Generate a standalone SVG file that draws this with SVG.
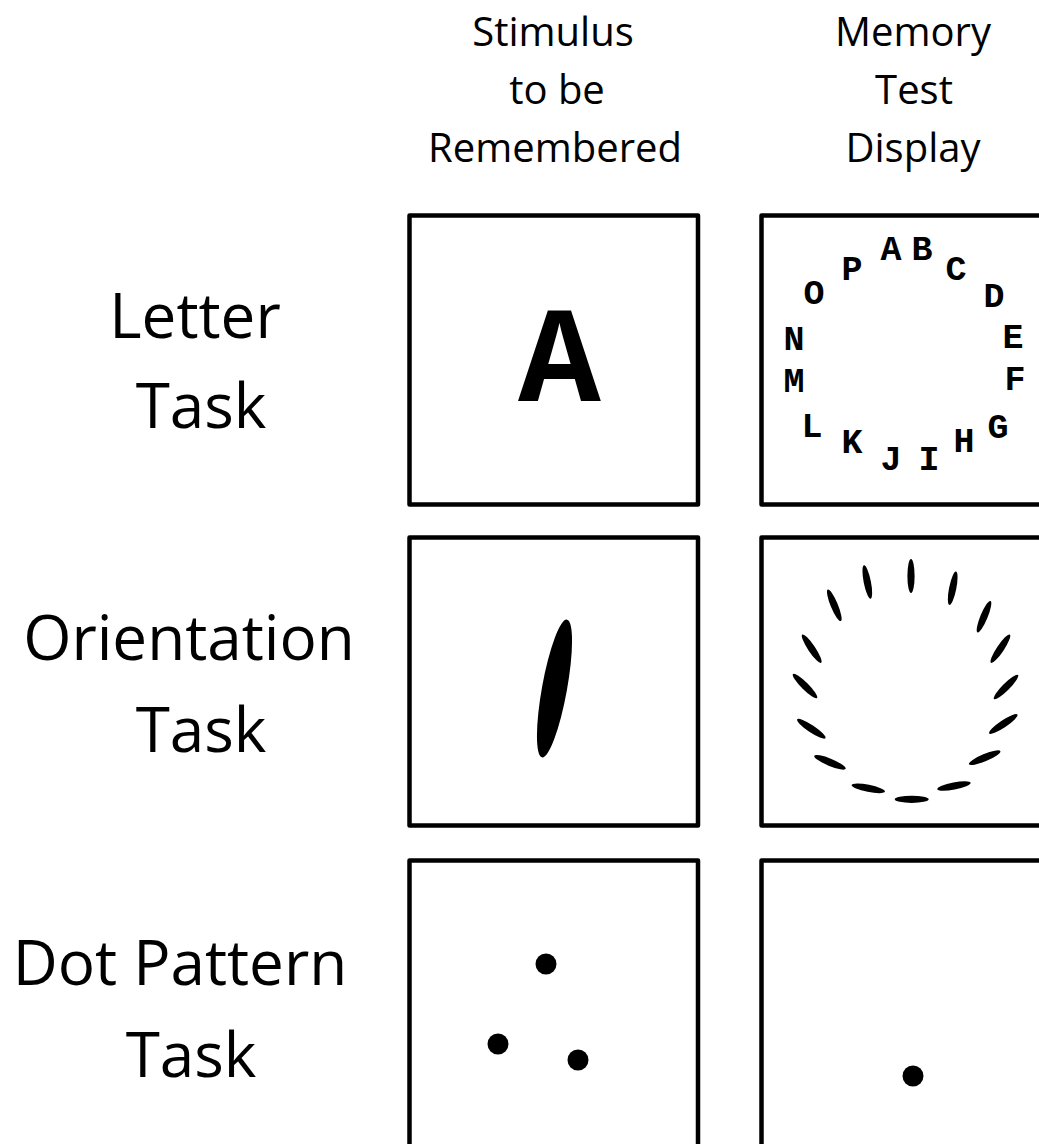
<svg xmlns="http://www.w3.org/2000/svg" width="1039" height="1144" viewBox="0 0 1039 1144">
<style>
.hdr{font-family:"Open Sans","Liberation Sans",sans-serif;font-size:40px;fill:#000;text-anchor:middle}
.row{font-family:"Open Sans","Liberation Sans",sans-serif;font-size:62px;fill:#000;text-anchor:middle}
.box{fill:#fff;stroke:#000;stroke-width:4.5;stroke-linejoin:round}
.mono{font-family:"Liberation Mono","Courier New",monospace;font-weight:bold;fill:#000;text-anchor:middle}
.lt{font-size:35px}
.bar{fill:#000}
</style>
<rect width="1039" height="1144" fill="#fff"/>
<g id="header-stimulus">
<text class="hdr" x="553" y="46">Stimulus</text>
<text class="hdr" x="557" y="104">to be</text>
<text class="hdr" x="555" y="162">Remembered</text>
</g>
<g id="header-memory">
<text class="hdr" x="913" y="46">Memory</text>
<text class="hdr" x="914" y="104">Test</text>
<text class="hdr" x="913" y="162">Display</text>
</g>
<g id="label-letter">
<text class="row" x="195" y="338">Letter</text>
<text class="row" x="201" y="428">Task</text>
</g>
<g id="label-orientation">
<text class="row" x="189" y="660">Orientation</text>
<text class="row" x="201" y="752">Task</text>
</g>
<g id="label-dot">
<text class="row" x="180" y="985">Dot Pattern</text>
<text class="row" x="191" y="1077">Task</text>
</g>
<g id="letter-stimulus">
<rect class="box" x="409.5" y="215.5" width="288.5" height="289"/>
<text class="mono" x="559.5" y="401" font-size="138">A</text>
</g>
<g id="letter-test">
<rect class="box" x="761.5" y="215.5" width="289" height="289"/>
<g class="mono lt">
<text x="891" y="260">A</text>
<text x="922" y="260">B</text>
<text x="956" y="280">C</text>
<text x="994" y="307">D</text>
<text x="1013" y="348">E</text>
<text x="1015" y="390">F</text>
<text x="998" y="438">G</text>
<text x="964" y="452">H</text>
<text x="929" y="470">I</text>
<text x="891" y="470">J</text>
<text x="852" y="453">K</text>
<text x="812" y="437">L</text>
<text x="794" y="392">M</text>
<text x="794" y="350">N</text>
<text x="814" y="304">O</text>
<text x="852" y="280">P</text>
</g>
</g>
<g id="orientation-stimulus">
<rect class="box" x="409.5" y="537.5" width="288.5" height="288"/>
<ellipse class="bar" cx="554.5" cy="688.5" rx="12.5" ry="70" transform="rotate(10.3 554.5 688.5)"/>
</g>
<g id="orientation-test">
<rect class="box" x="761.5" y="537.5" width="289" height="288"/>
<g class="bar">
<ellipse cx="911" cy="576" rx="3.6" ry="17"/>
<ellipse cx="952.7" cy="588.2" rx="3.6" ry="17" transform="rotate(11.25 952.7 588.2)"/>
<ellipse cx="984" cy="616.7" rx="3.6" ry="17" transform="rotate(22.5 984 616.7)"/>
<ellipse cx="1000.4" cy="648.7" rx="3.6" ry="17" transform="rotate(33.75 1000.4 648.7)"/>
<ellipse cx="1006" cy="687" rx="3.6" ry="17" transform="rotate(45 1006 687)"/>
<ellipse cx="1003.3" cy="724" rx="3.6" ry="17" transform="rotate(56.25 1003.3 724)"/>
<ellipse cx="984.7" cy="757.7" rx="3.6" ry="17" transform="rotate(67.5 984.7 757.7)"/>
<ellipse cx="954" cy="786" rx="3.6" ry="17" transform="rotate(78.75 954 786)"/>
<ellipse cx="911.7" cy="799.3" rx="3.6" ry="17" transform="rotate(90 911.7 799.3)"/>
<ellipse cx="868.3" cy="788.3" rx="3.6" ry="17" transform="rotate(-78.75 868.3 788.3)"/>
<ellipse cx="830" cy="762.3" rx="3.6" ry="17" transform="rotate(-67.5 830 762.3)"/>
<ellipse cx="811.3" cy="728.7" rx="3.6" ry="17" transform="rotate(-56.25 811.3 728.7)"/>
<ellipse cx="805" cy="686" rx="3.6" ry="17" transform="rotate(-45 805 686)"/>
<ellipse cx="811.7" cy="648.7" rx="3.6" ry="17" transform="rotate(-33.75 811.7 648.7)"/>
<ellipse cx="834.3" cy="605.3" rx="3.6" ry="17" transform="rotate(-22.5 834.3 605.3)"/>
<ellipse cx="867.3" cy="582" rx="3.6" ry="17" transform="rotate(-11.25 867.3 582)"/>
</g>
</g>
<g id="dot-stimulus">
<rect class="box" x="409.5" y="860.5" width="288.5" height="300"/>
<circle class="bar" cx="546" cy="964" r="10.5"/>
<circle class="bar" cx="498" cy="1044" r="10.5"/>
<circle class="bar" cx="578" cy="1060" r="10.5"/>
</g>
<g id="dot-test">
<rect class="box" x="761.5" y="860.5" width="289" height="300"/>
<circle class="bar" cx="913" cy="1076" r="10.5"/>
</g>
</svg>
